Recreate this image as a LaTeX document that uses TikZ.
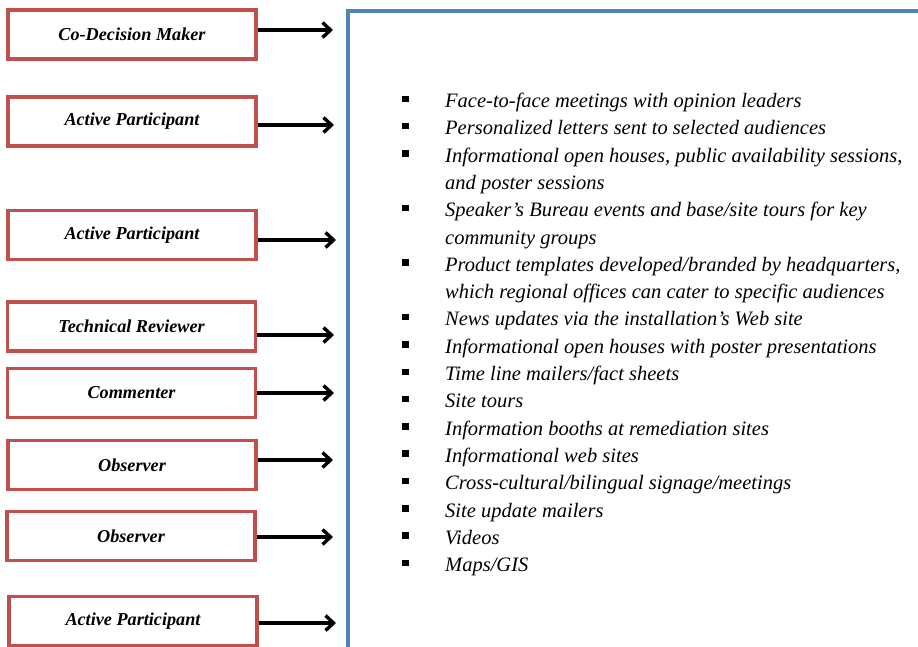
\documentclass[tikz,border=0pt]{standalone}
\usepackage{fontspec}
\setmainfont{Liberation Serif}
\usetikzlibrary{arrows.meta}
\definecolor{boxred}{HTML}{C0504D}
\definecolor{panelblue}{HTML}{4F81BD}
% square bullet followed by the hanging indent of the list
\newcommand{\sqbul}{\makebox[43pt][l]{\rule[5.5pt]{6.5pt}{6.5pt}}}
\newcommand{\hang}{\hspace*{43pt}}
\tikzset{
  role/.style={draw=boxred, line width=3.2pt, minimum width=248pt, minimum height=49pt,
    inner sep=0pt, font=\fontsize{18.2}{22}\selectfont\bfseries\itshape},
  feed/.style={line width=3.6pt, -{Straight Barb[length=8pt,width=15pt,line width=3.4pt]}},
  panel/.style={draw=panelblue, line width=3.2pt},
  entry/.style={anchor=base west, inner sep=0pt, font=\fontsize{20.5}{27.3}\selectfont\itshape}
}
\begin{document}
\begin{tikzpicture}[x=1pt,y=1pt]
\clip (0,0) rectangle (918,-646);
\fill[white] (0,0) rectangle (918,-646);

% framed panel holding the list of activities
\draw[panel] (348,-11) rectangle (940,-670);

% participation roles
\node[role] (b1) at (132,-34.5) {Co-Decision Maker};
\node[role] (b2) at (132,-121.5) {Active Participant};
\node[role] (b3) at (132,-235) {Active Participant};
\node[role] (b4) at (131.5,-326.5) {Technical Reviewer};
\node[role] (b5) at (131.5,-393) {Commenter};
\node[role] (b6) at (132,-465) {Observer};
\node[role] (b7) at (131,-536) {Observer};
\node[role] (b8) at (133,-621) {Active Participant};

% arrow tips pointing into the panel
\coordinate (t1) at (333,-30);
\coordinate (t2) at (334,-125);
\coordinate (t3) at (336,-240);
\coordinate (t4) at (334,-335);
\coordinate (t5) at (334,-393);
\coordinate (t6) at (333,-460);
\coordinate (t7) at (333,-537);
\coordinate (t8) at (336,-623);
\foreach \k in {1,...,8}
  \draw[feed] (b\k.east |- t\k) -- (t\k);

% list of outreach activities, one node per printed line
\foreach \t [count=\i from 0] in {
  {\sqbul Face-to-face meetings with opinion leaders},
  {\sqbul Personalized letters sent to selected audiences},
  {\sqbul Informational open houses, public availability sessions,},
  {\hang and poster sessions},
  {\sqbul Speaker’s Bureau events and base/site tours for key},
  {\hang community groups},
  {\sqbul Product templates developed/branded by headquarters,},
  {\hang which regional offices can cater to specific audiences},
  {\sqbul News updates via the installation’s Web site},
  {\sqbul Informational open houses with poster presentations},
  {\sqbul Time line mailers/fact sheets},
  {\sqbul Site tours},
  {\sqbul Information booths at remediation sites},
  {\sqbul Informational web sites},
  {\sqbul Cross-cultural/bilingual signage/meetings},
  {\sqbul Site update mailers},
  {\sqbul Videos},
  {\sqbul Maps/GIS}}
  \node[entry] (l\i) at (402,{-107.5-\i*27.3}) {\t};
\end{tikzpicture}
\end{document}
